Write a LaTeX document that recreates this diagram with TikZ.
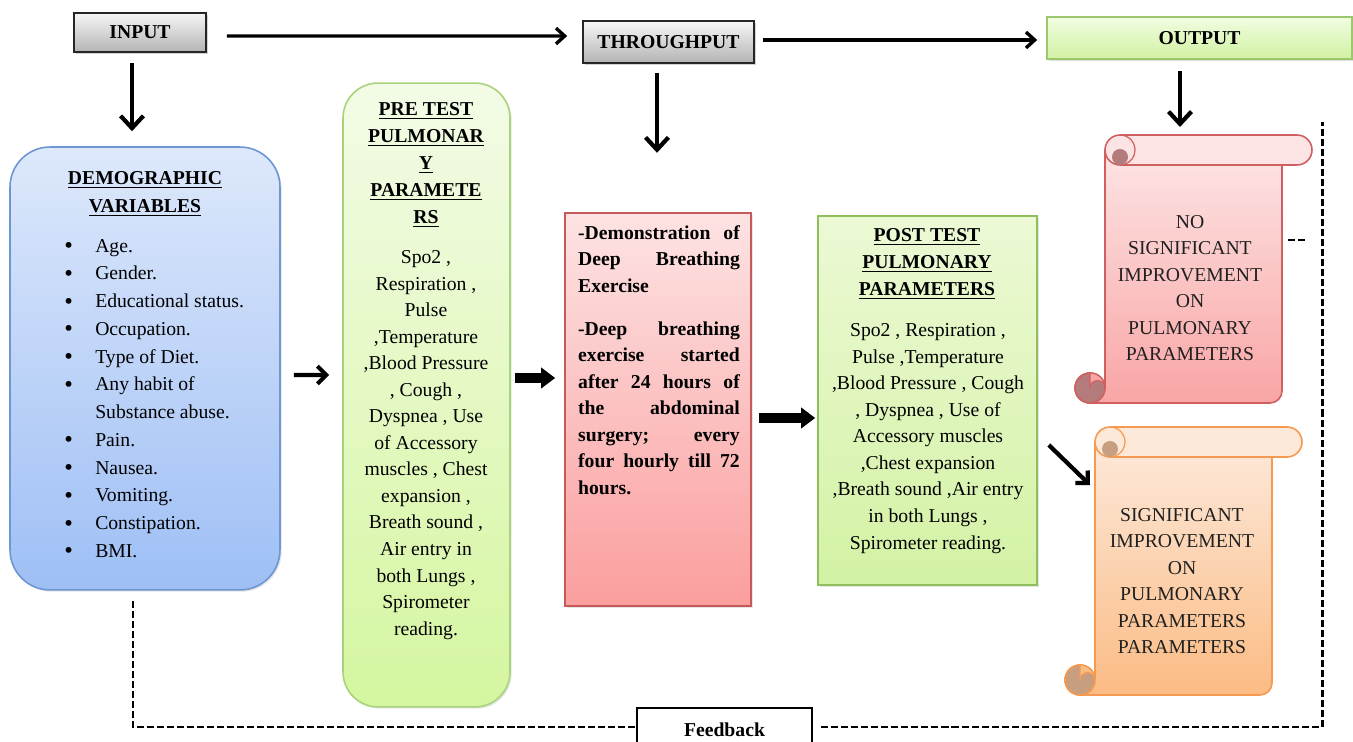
\documentclass[tikz,border=0pt]{standalone}
\usepackage{fontspec}
\setmainfont{Liberation Serif}
\usetikzlibrary{arrows.meta,calc,shadows}
\definecolor{grayTop}{HTML}{F7F7F7}
\definecolor{grayBot}{HTML}{B3B3B3}
\definecolor{outTop}{HTML}{F1FDE2}
\definecolor{outBot}{HTML}{D1F1A3}
\definecolor{outBorder}{HTML}{9CC86D}
\definecolor{demoTop}{HTML}{DDE8FB}
\definecolor{demoBot}{HTML}{9EBFF5}
\definecolor{demoBorder}{HTML}{6D96D2}
\definecolor{preTop}{HTML}{F3FBE6}
\definecolor{preBot}{HTML}{D5F6A0}
\definecolor{preBorder}{HTML}{A8D37A}
\definecolor{redTop}{HTML}{FDE3E3}
\definecolor{redBot}{HTML}{FB9E9E}
\definecolor{redBorder}{HTML}{C65A5A}
\definecolor{postTop}{HTML}{ECF9D5}
\definecolor{postBot}{HTML}{D3F2A4}
\definecolor{postBorder}{HTML}{8FBE5D}
\definecolor{srTop}{HTML}{FDE4E4}
\definecolor{srBot}{HTML}{F9A5A5}
\definecolor{srBorder}{HTML}{D06060}
\definecolor{srDark}{HTML}{B37B7B}
\definecolor{soTop}{HTML}{FDE9DA}
\definecolor{soBot}{HTML}{FBBB84}
\definecolor{soBorder}{HTML}{F59A50}
\definecolor{soDark}{HTML}{C79F80}
\definecolor{txtDark}{HTML}{202020}
\newcommand{\justline}[1]{\leavevmode\hbox to 92pt{#1}}
\newcommand{\blt}{\makebox[17.6pt][l]{\raisebox{-0.9pt}{\fontsize{14}{15}\selectfont\textbullet}}}
% scroll: #1 x of body left, #2 y of roll top, #3 top colour, #4 bottom colour, #5 border, #6 curl
\newcommand{\myscroll}[6]{%
  \path[draw=#5, line width=0.9pt, top color=#3, bottom color=#4]
    (#1,#2+15) -- (#1,#2+253) arc[start angle=0, end angle=-270, radius=15]
    -- (#1+165,#2+268) arc[start angle=90, end angle=0, radius=12]
    -- (#1+177,#2+15) -- cycle;
  \path[draw=#5, line width=0.9pt, fill=#6] (#1-15,#2+253) circle (15);
  \path[draw=#5, line width=0.6pt, fill=#4]
    (#1-15,#2+238) arc[start angle=-90, end angle=0, radius=15]
    arc[start angle=0, end angle=-180, radius=7.5] -- cycle;
  \path[draw=#5, line width=0.9pt, fill=#3]
    (#1+15,#2) -- (#1+192,#2) arc[start angle=-90, end angle=90, radius=15]
    -- (#1+15,#2+30) arc[start angle=90, end angle=270, radius=15] -- cycle;
  \path[fill=#6] (#1+15,#2+22) circle (8);
  \draw[#5, line width=0.7pt] (#1+15,#2) arc[start angle=-90, end angle=70, radius=15];
}
\begin{document}
\begin{tikzpicture}[x=0.02cm, y=-0.02cm,
  every node/.style={font=\fontsize{11.2}{15.1}\selectfont, inner sep=0pt},
  graybox/.style={draw=black!85, line width=0.9pt, top color=grayTop, bottom color=grayBot,
    drop shadow={opacity=0.35, shadow xshift=1.2pt, shadow yshift=-1.2pt}},
  outbox/.style={draw=outBorder, line width=0.9pt, top color=outTop, bottom color=outBot,
    drop shadow={opacity=0.25, shadow xshift=1.2pt, shadow yshift=-1.2pt}},
  harr/.style={line width=1.9pt, -{Straight Barb[length=5pt,width=9pt]}},
  darr/.style={line width=2.4pt, -{Straight Barb[length=7pt,width=13pt]}},
  sarr/.style={line width=2.4pt, -{Straight Barb[length=5pt,width=10pt]}},
  barr/.style={line width=5.7pt, -{Triangle[length=8pt,width=11.4pt]}},
  fbline/.style={line width=1.7pt, dash pattern=on 4pt off 1.7pt},
]
\useasboundingbox (0,0) rectangle (1353,742);

% top row
\node[graybox, minimum width=2.64cm, minimum height=0.78cm] (input) at (140,32.5) {\bfseries INPUT};
\node[graybox, minimum width=3.42cm, minimum height=0.84cm] (through) at (668.5,42) {\bfseries THROUGHPUT};
\node[outbox, minimum width=6.10cm, minimum height=0.84cm] (output) at (1199.5,38) {\bfseries OUTPUT};

% demographic box
\node[draw=demoBorder, line width=0.9pt, top color=demoTop, bottom color=demoBot,
  rounded corners=0.8cm, minimum width=5.40cm, minimum height=8.86cm,
  drop shadow={opacity=0.2, shadow xshift=1pt, shadow yshift=-1pt}] (demo) at (145,368.5) {};
\node[align=center, font=\fontsize{11.2}{15.9}\selectfont\bfseries] (demohead) at (145,194)
  {\underline{DEMOGRAPHIC}\\ \underline{VARIABLES}};
\node[align=left, anchor=west, font=\fontsize{11.2}{15.8}\selectfont] (demolist) at (64,399)
  {\blt Age.\\ \blt Gender.\\ \blt Educational status.\\ \blt Occupation.\\ \blt Type of Diet.\\
   \blt Any habit of\\ \hspace*{17.6pt}Substance abuse.\\ \blt Pain.\\ \blt Nausea.\\
   \blt Vomiting.\\ \blt Constipation.\\ \blt BMI.};

% pre test box
\node[draw=preBorder, line width=0.9pt, top color=preTop, bottom color=preBot,
  rounded corners=0.7cm, minimum width=3.34cm, minimum height=12.48cm,
  drop shadow={opacity=0.2, shadow xshift=1pt, shadow yshift=-1pt}] (pre) at (426.5,395) {};
\node[align=center, font=\fontsize{11.2}{15.4}\selectfont\bfseries] (prehead) at (426,165)
  {\underline{PRE TEST}\\ \underline{PULMONAR}\\ \underline{Y}\\ \underline{PARAMETE}\\ \underline{RS}};
\node[align=center, font=\fontsize{11.2}{15.1}\selectfont] (prebody) at (426,445)
  {Spo2 ,\\ Respiration ,\\ Pulse\\ ,Temperature\\ ,Blood Pressure\\ , Cough ,\\ Dyspnea , Use\\
   of Accessory\\ muscles , Chest\\ expansion ,\\ Breath sound ,\\ Air entry in\\ both Lungs ,\\
   Spirometer\\ reading.};

% intervention box
\node[draw=redBorder, line width=0.9pt, top color=redTop, bottom color=redBot,
  minimum width=3.72cm, minimum height=7.86cm,
  drop shadow={opacity=0.2, shadow xshift=1pt, shadow yshift=-1pt}] (red) at (658,409.5) {};
\node[align=left, text width=92pt, font=\fontsize{11.2}{15.1}\selectfont\bfseries] (redtext) at (659,360)
  {\justline{-Demonstration\hfill of}\\ \justline{Deep\hfill Breathing}\\ Exercise\\[9.4pt]
   \justline{-Deep\hfill breathing}\\ \justline{exercise\hfill started}\\
   \justline{after\hfill 24\hfill hours\hfill of}\\
   \justline{the\hfill abdominal}\\ \justline{surgery;\hfill every}\\
   \justline{four\hfill hourly\hfill till\hfill 72}\\ hours.};

% post test box
\node[draw=postBorder, line width=0.9pt, top color=postTop, bottom color=postBot,
  minimum width=4.38cm, minimum height=7.38cm,
  drop shadow={opacity=0.2, shadow xshift=1pt, shadow yshift=-1pt}] (post) at (927.5,400.5) {};
\node[align=center, font=\fontsize{11.2}{15.4}\selectfont\bfseries] (posthead) at (927,264)
  {\underline{POST TEST}\\ \underline{PULMONARY}\\ \underline{PARAMETERS}};
\node[align=center, font=\fontsize{11.2}{15.1}\selectfont] (postbody) at (928,438.5)
  {Spo2 , Respiration ,\\ Pulse ,Temperature\\ ,Blood Pressure , Cough\\ , Dyspnea , Use of\\
   Accessory muscles\\ ,Chest expansion\\ ,Breath sound ,Air entry\\ in both Lungs ,\\ Spirometer reading.};

% scrolls
\myscroll{1105}{135}{srTop}{srBot}{srBorder}{srDark}
\myscroll{1095}{427}{soTop}{soBot}{soBorder}{soDark}
\node[align=center, text=txtDark] (noimp) at (1190,288)
  {NO\\ SIGNIFICANT\\ IMPROVEMENT\\ ON\\ PULMONARY\\ PARAMETERS};
\node[align=center, text=txtDark] (sig) at (1182,581)
  {SIGNIFICANT\\ IMPROVEMENT\\ ON\\ PULMONARY\\ PARAMETERS\\ PARAMETERS};

% feedback box
\node[draw=black, line width=1.5pt, fill=white, minimum width=3.50cm, minimum height=0.88cm]
  (feedback) at (724.5,730) {\bfseries Feedback};
\coordinate (fbtop) at (1322,122);

% connectors
\draw[harr] ($(input.east)+(20,3.5)$) -- ($(through.west)+(-15,-6)$);
\draw[harr] ($(through.east)+(8,-2)$) -- ($(output.west)+(-9,2)$);
\draw[darr] ($(input.south)+(-8,10)$) -- ($(demo.north)+(-13,-15)$);
\draw[darr] ($(through.south)+(-11.5,9)$) -- ($(through.south)+(-11.5,89)$);
\draw[darr] ($(output.south)+(-19.5,11)$) -- ($(noimp)+(-10,-161)$);
\draw[sarr] ($(demo.east)+(13,6.5)$) -- ($(pre.west)+(-13,-20)$);
\draw[barr] ($(pre.east)+(4,-17)$) -- ($(red.west)+(-9,-31.5)$);
\draw[barr] ($(red.east)+(7,8.5)$) -- ($(post.west)+(-2,17.5)$);
\draw[sarr] ($(post.east)+(11,44.5)$) -- ($(sig)+(-92,-96)$);

% feedback loop
\draw[fbline] ($(demo.south)+(-12,10)$) |- ($(feedback.west)+(0,-3)$);
\draw[fbline] ($(feedback.east)+(8,-3)$) -| (fbtop);
\draw[fbline] (1288,240) -- (1307,240);
\end{tikzpicture}
\end{document}
